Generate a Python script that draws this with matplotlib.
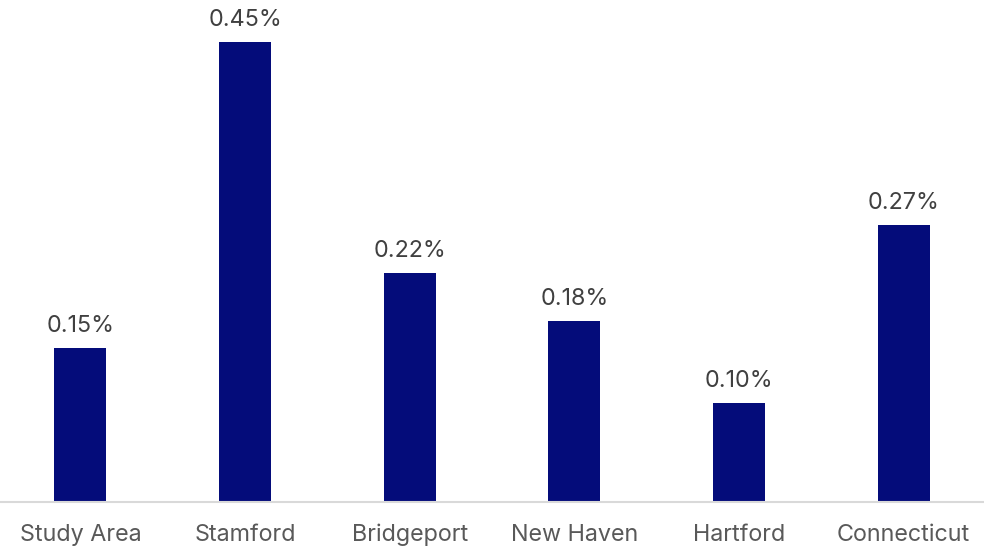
import matplotlib.pyplot as plt

plt.rcParams['font.family'] = ['Inter', 'DejaVu Sans']

# values (bar heights, labels shown rounded)
places = ['Study Area', 'Stamford', 'Bridgeport', 'New Haven', 'Hartford', 'Connecticut']
shares = [0.151, 0.450, 0.224, 0.177, 0.097, 0.271]

fig = plt.figure(figsize=(9.84, 5.48), dpi=100)
ax = fig.add_axes([-2 / 984, 46 / 548, 988 / 984, 502 / 548])

bars = ax.bar(places, shares, width=0.316, color='#040C7A')

for b, v in zip(bars, shares):
    ax.annotate(f'{v:.2f}%', (b.get_x() + b.get_width() / 2, v),
                xytext=(0, 8), textcoords='offset points',
                ha='center', va='bottom', fontsize=16.8, color='#404040')

ax.set_xlim(-0.5, 5.5)
ax.set_ylim(0, 0.4912)
ax.set_yticks([])
for s in ['top', 'right', 'left']:
    ax.spines[s].set_visible(False)
ax.spines['bottom'].set_color('#D9D9D9')
ax.spines['bottom'].set_linewidth(1.5)
ax.tick_params(axis='x', length=0, pad=15.5, labelsize=16.8, labelcolor='#595959')

fig.savefig('out.png', dpi=100)
